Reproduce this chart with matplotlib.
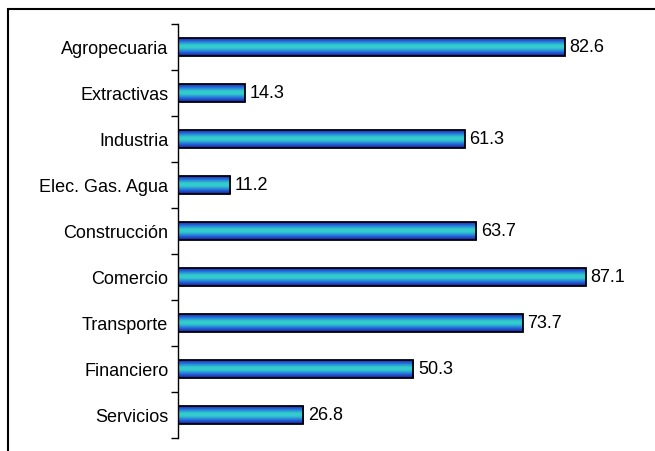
import numpy as np
import matplotlib.pyplot as plt
from matplotlib.colors import LinearSegmentedColormap
from matplotlib.patches import Rectangle

plt.rcParams['font.family'] = ['Liberation Sans', 'DejaVu Sans']

sectores = ["Agropecuaria", "Extractivas", "Industria", "Elec. Gas. Agua",
            "Construcción", "Comercio", "Transporte", "Financiero", "Servicios"]
valores = [82.6, 14.3, 61.3, 11.2, 63.7, 87.1, 73.7, 50.3, 26.8]

W, H = 655, 451
fig = plt.figure(figsize=(W / 100, H / 100), dpi=100)
ax = fig.add_axes([178 / W, 1 - 438 / H, (646 - 178) / W, (438 - 24) / H])

# degradado vertical de las barras
cmap = LinearSegmentedColormap.from_list(
    "barra", [(0, "#1a1a99"), (0.2, "#2266dd"), (0.42, "#33cccc"),
              (0.58, "#33cccc"), (0.8, "#2266dd"), (1, "#1a1a99")])
grad = np.linspace(0, 1, 64).reshape(-1, 1)

y = np.arange(len(sectores))
alto = 0.4
bars = ax.barh(y, valores, height=alto, color="none", edgecolor="black",
               linewidth=1.3, zorder=3)
for b, v in zip(bars, valores):
    yc = b.get_y()
    im = ax.imshow(grad, cmap=cmap, aspect="auto",
                   extent=[0, v, yc + alto, yc], zorder=2)
    im.set_clip_path(b)
    ax.text(v + 1, b.get_y() + alto / 2, f"{v}", va="center", ha="left",
            fontsize=13)

ax.set_xlim(0, 100)
ax.set_ylim(len(sectores) - 0.5, -0.5)
ax.set_yticks(y)
ax.set_yticklabels(sectores, fontsize=13)
ax.tick_params(axis="y", length=0, pad=7)
ax.set_yticks(np.arange(-0.5, len(sectores)), minor=True)
ax.tick_params(axis="y", which="minor", length=5, width=1)
ax.set_xticks([])
for s in ["top", "right", "bottom"]:
    ax.spines[s].set_visible(False)
ax.spines["left"].set_linewidth(1)

fig.patches.append(Rectangle((8 / W, -0.1), 1.2, 1.1 - 9 / H,
                             transform=fig.transFigure, fill=False,
                             edgecolor="black", linewidth=1.5))

fig.savefig("out.png", dpi=100)
